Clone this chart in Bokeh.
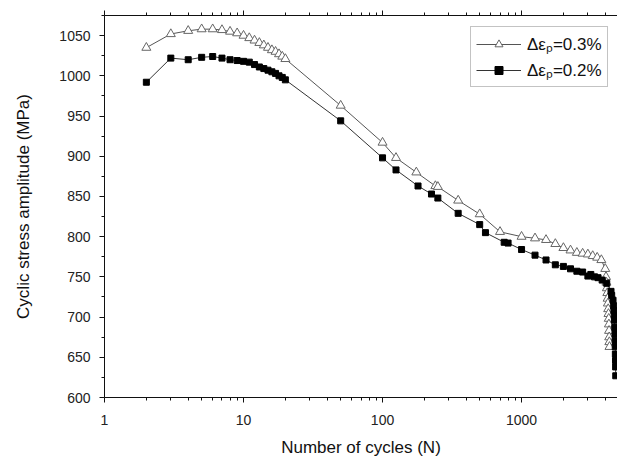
from bokeh.plotting import figure
from bokeh.models import (LogAxis, FixedTicker, PrintfTickFormatter, Legend,
                          LegendItem, Range1d, ColumnDataSource)
from bokeh.embed import file_html
from bokeh.resources import INLINE

# ---- data ----
n_03 = [2, 3, 4, 5, 6, 7, 8, 9, 10, 11, 12, 13, 14, 15, 16, 17, 18, 19, 20,
        50, 100, 125, 175, 240, 250, 350, 500, 700, 1000, 1250, 1500, 1750,
        2000, 2250, 2500, 2750, 3000, 3250, 3500, 3750, 4000,
        4050, 4080, 4110, 4140, 4160, 4180, 4200, 4220, 4240, 4250, 4260,
        4270, 4280, 4290]
s_03 = [1035, 1052, 1056, 1058, 1058, 1057, 1055, 1053, 1050, 1047, 1044,
        1041, 1038, 1035, 1032, 1030, 1027, 1024, 1021,
        963, 917, 898, 880, 863, 862, 845, 828, 806, 800, 798, 796, 791,
        786, 783, 780, 779, 778, 776, 774, 771, 760,
        750, 743, 736, 730, 723, 717, 710, 704, 698, 691, 683, 675, 669, 663]

n_02 = [2, 3, 4, 5, 6, 7, 8, 9, 10, 11, 12, 13, 14, 15, 16, 17, 18, 19, 20,
        50, 100, 125, 180, 225, 250, 350, 500, 550, 750, 800, 1000, 1250,
        1500, 1750, 2000, 2250, 2500, 2750, 3000, 3150, 3350, 3550, 3800,
        4100, 4400, 4450, 4550,
        4600, 4620, 4640, 4660, 4680, 4700, 4710, 4720, 4730, 4740, 4750, 4760]
s_02 = [992, 1022, 1020, 1023, 1024, 1022, 1020, 1019, 1018, 1017, 1014,
        1011, 1009, 1007, 1005, 1003, 1000, 998, 995,
        944, 898, 883, 863, 853, 848, 829, 815, 805, 793, 792, 784, 777,
        771, 765, 763, 760, 757, 756, 751, 753, 750, 749, 746,
        742, 732, 727, 721,
        714, 708, 702, 696, 687, 679, 671, 663, 654, 646, 638, 627]

x_major = [1, 10, 100, 1000]
x_minor = [m * d for d in [1, 10, 100, 1000] for m in range(2, 10)]
y_major = list(range(600, 1051, 50))
y_minor = list(range(625, 1076, 50))

labels = ["\u0394\u03b5\u209a=0.3%", "\u0394\u03b5\u209a=0.2%"]

FONT = "Liberation Sans"

p = figure(width=617, height=459, x_axis_type="log",
           x_range=Range1d(1, 4900), y_range=Range1d(600, 1075),
           output_backend="svg", toolbar_location=None,
           min_border_left=104, min_border_right=0, min_border_top=15,
           min_border_bottom=62)
p.grid.visible = False
p.outline_line_color = None
p.background_fill_color = "white"
p.border_fill_color = "white"

xt = FixedTicker(ticks=x_major, minor_ticks=x_minor)
yt = FixedTicker(ticks=y_major, minor_ticks=y_minor)

for ax in [p.xaxis[0], p.yaxis[0]]:
    ax.axis_line_color = "#111111"
    ax.major_tick_line_color = "#111111"
    ax.minor_tick_line_color = "#111111"
    ax.major_tick_out = 5
    ax.major_tick_in = 0
    ax.minor_tick_out = 3
    ax.minor_tick_in = 0
    ax.major_label_text_font = FONT
    ax.major_label_text_font_size = "14px"
    ax.major_label_text_color = "#222222"
    ax.axis_label_text_font = FONT
    ax.axis_label_text_font_size = "17px"
    ax.axis_label_text_font_style = "normal"
    ax.axis_label_text_color = "#111111"

p.xaxis[0].ticker = xt
p.xaxis[0].formatter = PrintfTickFormatter(format="%d")
p.xaxis[0].axis_label = "Number of cycles (N)"
p.xaxis[0].major_label_standoff = 12
p.xaxis[0].axis_label_standoff = 10

p.yaxis[0].ticker = yt
p.yaxis[0].axis_label = "Cyclic stress amplitude (MPa)"
p.yaxis[0].major_label_standoff = 9
p.yaxis[0].axis_label_standoff = 23

top = LogAxis(ticker=xt, formatter=PrintfTickFormatter(format="%d"),
              major_label_text_font_size="2px",
              major_label_text_color=None,
              major_label_standoff=0, axis_line_color="#111111",
              major_tick_line_color="#111111", minor_tick_line_color="#111111",
              major_tick_out=5, major_tick_in=0, minor_tick_out=3,
              minor_tick_in=0)
p.add_layout(top, "above")

src03 = ColumnDataSource(dict(n=n_03, s=s_03))
src02 = ColumnDataSource(dict(n=n_02, s=s_02))

l1 = p.line("n", "s", source=src03, line_color="#555555", line_width=1)
m1 = p.scatter("n", "s", source=src03, marker="triangle", size=9,
               fill_color="white", line_color="#666666", line_width=1)
l2 = p.line("n", "s", source=src02, line_color="#333333", line_width=1)
m2 = p.scatter("n", "s", source=src02, marker="square", size=6,
               fill_color="black", line_color="black")

legend = Legend(items=[LegendItem(label=labels[0], renderers=[l1, m1]),
                       LegendItem(label=labels[1], renderers=[l2, m2])],
                location=(366, 310), orientation="vertical")
legend.label_text_font = FONT
legend.label_text_font_size = "17px"
legend.label_text_color = "#111111"
legend.border_line_color = "#888888"
legend.border_line_width = 1
legend.background_fill_color = "white"
legend.background_fill_alpha = 1
legend.padding = 5
legend.spacing = 3
legend.margin = 0
legend.glyph_width = 45
legend.glyph_height = 20
legend.label_standoff = 6
legend.label_height = 20
p.add_layout(legend)

open("out.html", "w").write(file_html(p, INLINE))
